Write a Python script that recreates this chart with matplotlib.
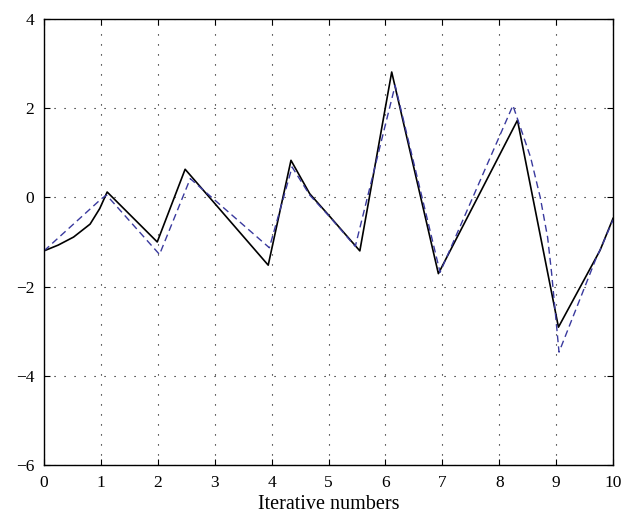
import matplotlib.pyplot as plt

# solid black series
x_black = [0, 0.25, 0.52, 0.81, 0.98, 1.11, 1.99, 2.48, 3.94, 4.34, 4.67, 5.03, 5.55,
           6.11, 6.93, 8.32, 9.04, 9.77, 10]
y_black = [-1.2, -1.07, -0.89, -0.6, -0.25, 0.12, -1.0, 0.63, -1.52, 0.83, 0.08, -0.44, -1.2,
           2.81, -1.71, 1.73, -2.91, -1.19, -0.47]

# dashed blue series
x_blue = [0, 1.01, 1.1, 2.03, 2.57, 3.96, 4.36, 4.67, 5.03, 5.47,
          6.17, 6.96, 8.24, 8.55, 8.72, 8.85, 8.92, 9.05, 9.71, 9.8, 10]
y_blue = [-1.2, -0.03, 0.05, -1.28, 0.42, -1.13, 0.68, 0.05, -0.45, -1.1,
          2.51, -1.68, 2.06, 0.9, 0.0, -0.9, -1.7, -3.47, -1.34, -1.1, -0.5]

plt.rcParams['font.family'] = 'Liberation Serif'

fig = plt.figure(figsize=(6.24, 5.26), dpi=100)
ax = fig.add_axes([0.0705, 0.116, 0.912, 0.848])

ax.plot(x_black, y_black, color='black', linewidth=1.2)
ax.plot(x_blue, y_blue, color='#3a3a9e', linewidth=1.0, linestyle=(0, (5, 3)))

ax.set_xlim(0, 10)
ax.set_ylim(-6, 4)
ax.set_xticks(range(0, 11))
ax.set_yticks(range(-6, 5, 2))
ax.grid(True, color='black', linestyle=(0, (1, 8)), linewidth=0.8)
ax.tick_params(direction='in', top=True, right=True, labelsize=12.5, length=4, pad=7)
for s in ax.spines.values():
    s.set_linewidth(1.0)
ax.set_xlabel('Iterative numbers', fontsize=14.5, labelpad=3)

plt.savefig('out.png', dpi=100)
